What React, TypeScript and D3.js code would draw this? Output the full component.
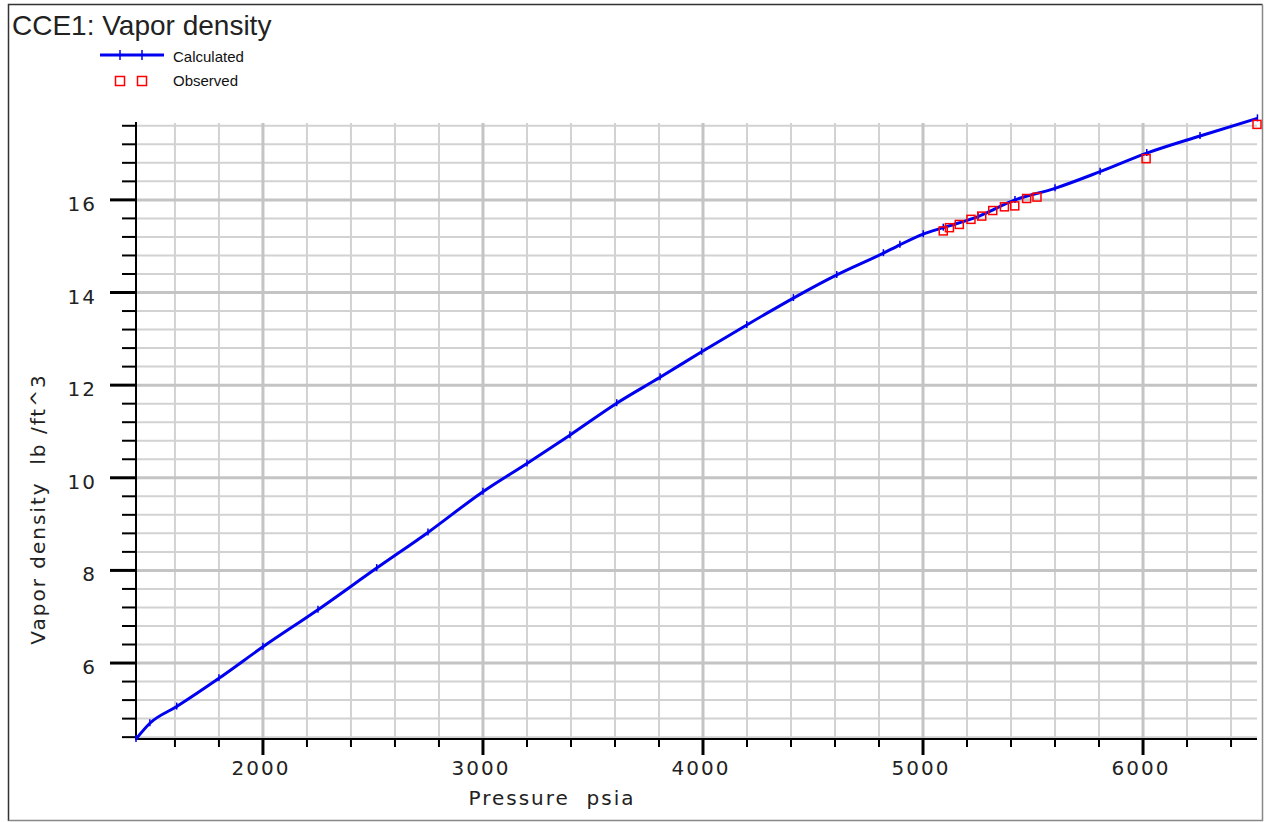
import React, { useRef, useEffect } from 'react';
import * as d3 from 'd3';

// Calculated curve
const calcPressure = [1423, 1486, 1608, 1800, 2000, 2250, 2517, 2750, 3000, 3200, 3395, 3608, 3805, 3994, 4199, 4411, 4608, 4820, 4895, 5001, 5092, 5250, 5418, 5600, 5805, 6017, 6259, 6520];
const calcDensity = [4.36, 4.70, 5.06, 5.67, 6.35, 7.15, 8.05, 8.82, 9.70, 10.31, 10.92, 11.61, 12.17, 12.72, 13.30, 13.88, 14.38, 14.85, 15.03, 15.26, 15.40, 15.64, 16.00, 16.25, 16.61, 17.01, 17.38, 17.76];

// Observed points
const obsPressure = [5092, 5120, 5165, 5218, 5267, 5317, 5370, 5417, 5471, 5518, 6014, 6518];
const obsDensity = [15.33, 15.40, 15.47, 15.58, 15.65, 15.77, 15.85, 15.87, 16.03, 16.06, 16.89, 17.63];

const xMajor = [2000, 3000, 4000, 5000, 6000];
const yMajor = [6, 8, 10, 12, 14, 16];

const W = 1265;
const H = 822;
const FONT = '"DejaVu Sans", sans-serif';

const App = () => {
  const ref = useRef<SVGSVGElement>(null);

  useEffect(() => {
    const svg = d3.select(ref.current);
    svg.selectAll('*').remove();

    const x = d3.scaleLinear().domain([1423, 6518]).range([136, 1257]);
    const y = d3.scaleLinear().domain([4.36, 17.66]).range([739, 123]);
    const [x0, x1] = x.range();
    const [y0, y1] = y.range();

    // frame
    svg.append('rect').attr('x', 0).attr('y', 0).attr('width', W).attr('height', H).attr('fill', '#fff');
    svg.append('path').attr('d', `M8.5,${H - 1} V4.5 H1262.5`).attr('fill', 'none').attr('stroke', '#333').attr('stroke-width', 1.5);
    svg.append('path').attr('d', `M8.5,820.5 H1262.5 V4.5`).attr('fill', 'none').attr('stroke', '#888').attr('stroke-width', 1.5);

    const xMinor = d3.range(1600, 6501, 200).filter(v => !xMajor.includes(v));
    const yMinor = d3.range(4.4, 17.7, 0.4).map(v => +v.toFixed(1)).filter(v => !yMajor.includes(v));

    const grid = svg.append('g');
    grid.selectAll('.vmin').data(xMinor).enter().append('line')
      .attr('x1', d => x(d)).attr('x2', d => x(d)).attr('y1', y1).attr('y2', y0)
      .attr('stroke', '#d2d2d2').attr('stroke-width', 2);
    grid.selectAll('.hmin').data(yMinor).enter().append('line')
      .attr('x1', x0).attr('x2', x1).attr('y1', d => y(d)).attr('y2', d => y(d))
      .attr('stroke', '#d2d2d2').attr('stroke-width', 2);
    grid.selectAll('.vmaj').data(xMajor).enter().append('line')
      .attr('x1', d => x(d)).attr('x2', d => x(d)).attr('y1', y1).attr('y2', y0)
      .attr('stroke', '#c4c4c4').attr('stroke-width', 3);
    grid.selectAll('.hmaj').data(yMajor).enter().append('line')
      .attr('x1', x0).attr('x2', x1).attr('y1', d => y(d)).attr('y2', d => y(d))
      .attr('stroke', '#c4c4c4').attr('stroke-width', 3);

    // axes
    const ax = svg.append('g');
    ax.append('line').attr('x1', x0).attr('x2', x0).attr('y1', y1 - 1).attr('y2', y0 + 1).attr('stroke', '#000').attr('stroke-width', 2);
    ax.append('line').attr('x1', x0 - 1).attr('x2', x1).attr('y1', y0).attr('y2', y0).attr('stroke', '#000').attr('stroke-width', 2);
    ax.selectAll('.ytm').data(yMinor).enter().append('line')
      .attr('x1', x0 - 14).attr('x2', x0).attr('y1', d => y(d)).attr('y2', d => y(d))
      .attr('stroke', '#000').attr('stroke-width', 2);
    ax.selectAll('.ytM').data(yMajor).enter().append('line')
      .attr('x1', x0 - 26).attr('x2', x0).attr('y1', d => y(d)).attr('y2', d => y(d))
      .attr('stroke', '#000').attr('stroke-width', 3);
    ax.selectAll('.xtm').data(xMinor).enter().append('line')
      .attr('x1', d => x(d)).attr('x2', d => x(d)).attr('y1', y0).attr('y2', y0 + 8)
      .attr('stroke', '#000').attr('stroke-width', 2);
    ax.selectAll('.xtM').data(xMajor).enter().append('line')
      .attr('x1', d => x(d)).attr('x2', d => x(d)).attr('y1', y0).attr('y2', y0 + 16)
      .attr('stroke', '#000').attr('stroke-width', 3);

    ax.selectAll('.yl').data(yMajor).enter().append('text')
      .attr('x', 97).attr('y', d => y(d) + 11)
      .attr('text-anchor', 'end').attr('font-family', FONT).attr('font-size', 20)
      .attr('letter-spacing', 2).attr('fill', '#222').text(d => d);
    ax.selectAll('.xl').data(xMajor).enter().append('text')
      .attr('x', d => x(d) - 2).attr('y', 775)
      .attr('text-anchor', 'middle').attr('font-family', FONT).attr('font-size', 20)
      .attr('letter-spacing', 2).attr('fill', '#222').text(d => d);

    svg.append('text').attr('x', 552).attr('y', 805).attr('text-anchor', 'middle')
      .attr('font-family', FONT).attr('font-size', 20).attr('letter-spacing', 2).attr('fill', '#222')
      .attr('xml:space', 'preserve').text('Pressure  psia');
    svg.append('text').attr('transform', 'translate(45,509) rotate(-90)').attr('text-anchor', 'middle')
      .attr('font-family', FONT).attr('font-size', 20).attr('letter-spacing', 2).attr('fill', '#222')
      .attr('xml:space', 'preserve').text('Vapor density  lb /ft^3');

    // calculated line
    const pts = calcPressure.map((p, i) => [p, calcDensity[i]] as [number, number]);
    const line = d3.line<[number, number]>().x(d => x(d[0])).y(d => y(d[1])).curve(d3.curveMonotoneX);
    svg.append('path').datum(pts).attr('d', line).attr('fill', 'none')
      .attr('stroke', '#0000f0').attr('stroke-width', 3).attr('stroke-linejoin', 'round');
    svg.selectAll('.cm').data(pts).enter().append('line')
      .attr('x1', d => x(d[0])).attr('x2', d => x(d[0]))
      .attr('y1', d => y(d[1]) - 4).attr('y2', d => y(d[1]) + 3)
      .attr('stroke', '#0000f0').attr('stroke-width', 1.5);

    // observed squares
    const obs = obsPressure.map((p, i) => [p, obsDensity[i]] as [number, number]);
    svg.selectAll('.om').data(obs).enter().append('rect')
      .attr('x', d => x(d[0]) - 4).attr('y', d => y(d[1]) - 4)
      .attr('width', 8).attr('height', 8)
      .attr('fill', 'none').attr('stroke', '#ff0000').attr('stroke-width', 1.5);

    // title + legend
    svg.append('text').attr('x', 12).attr('y', 35).attr('font-family', '"Liberation Sans", Arial, sans-serif')
      .attr('font-size', 28).attr('fill', '#222').text('CCE1: Vapor density');
    const lg = svg.append('g');
    lg.append('line').attr('x1', 100).attr('x2', 164).attr('y1', 55).attr('y2', 55).attr('stroke', '#0000f0').attr('stroke-width', 3);
    [120, 142].forEach(cx => {
      lg.append('line').attr('x1', cx).attr('x2', cx).attr('y1', 50).attr('y2', 60).attr('stroke', '#0000f0').attr('stroke-width', 1.5);
      lg.append('rect').attr('x', cx - 4.5).attr('y', 76.5).attr('width', 9).attr('height', 9)
        .attr('fill', 'none').attr('stroke', '#ff0000').attr('stroke-width', 1.5);
    });
    lg.append('text').attr('x', 173).attr('y', 62).attr('font-family', '"Liberation Sans", Arial, sans-serif')
      .attr('font-size', 15).attr('fill', '#111').text('Calculated');
    lg.append('text').attr('x', 173).attr('y', 86).attr('font-family', '"Liberation Sans", Arial, sans-serif')
      .attr('font-size', 15).attr('fill', '#111').text('Observed');
  }, []);

  return <svg ref={ref} width={W} height={H} style={{ position: 'absolute', left: 0, top: 0 }} />;
};

export default App;
